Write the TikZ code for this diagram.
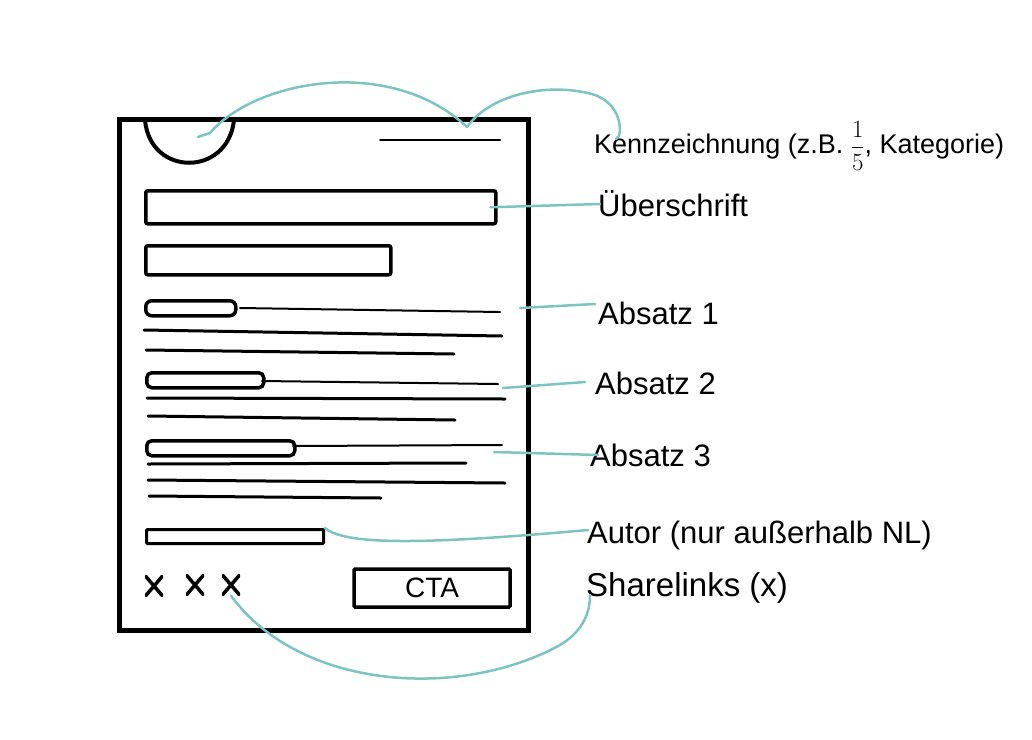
\documentclass[tikz,border=0pt]{standalone}
\usepackage{fontspec}
\setmainfont{Liberation Sans}
\definecolor{tealc}{RGB}{124,196,196}
\begin{document}
\begin{tikzpicture}[x=1pt,y=-1pt,
  frame/.style={draw=black,line width=5pt,inner sep=0pt,anchor=north west},
  box/.style={draw=black,line width=3.5pt,rounded corners=2pt,inner sep=0pt,anchor=north west},
  txtline/.style={draw=black,line width=3pt,line cap=round},
  thinline/.style={draw=black,line width=2pt,line cap=round},
  conn/.style={draw=tealc,line width=2.5pt,line cap=round,line join=round},
  lbl/.style={anchor=west,inner sep=0pt,font=\fontsize{31}{36}\selectfont},
  xmark/.style={minimum width=18pt,minimum height=21pt,inner sep=0pt,
    path picture={\draw[line width=3.5pt] (path picture bounding box.north west) -- (path picture bounding box.south east)
      (path picture bounding box.north east) -- (path picture bounding box.south west);}}
]
\useasboundingbox (0,0) rectangle (1032,739);

% page frame
\node[frame,minimum width=409pt,minimum height=511pt] (page) at (117,117) {};
% top-left half circle
\draw[line width=4pt] (145,120) .. controls (150,177) and (228,177) .. (234,120);
\coordinate (circ) at (198,137);
% top-right short line
\draw[thinline] (380,140) -- (500,140);
\coordinate (topline) at (467,127);

% headline boxes
\node[box,minimum width=350pt,minimum height=33pt] (h1) at (144,189) {};
\node[box,minimum width=245pt,minimum height=29pt] (h2) at (144,244) {};

% paragraph 1
\node[box,minimum width=90pt,minimum height=15pt,rounded corners=6pt] (p1) at (144,299) {};
\draw[thinline] (240,308) -- (500,312);
\draw[txtline] (144,330) -- (502,336);
\draw[txtline] (146,350) -- (454,354);
\coordinate (a1) at (520,308);

% paragraph 2
\node[box,minimum width=117pt,minimum height=15pt,rounded corners=5pt] (p2) at (145,371) {};
\draw[thinline] (262,381) -- (498,384);
\draw[txtline] (147,398) -- (505,399);
\draw[txtline] (148,416) -- (455,420);
\coordinate (a2) at (503,388);

% paragraph 3
\node[box,minimum width=148pt,minimum height=15pt,rounded corners=5pt] (p3) at (145,439) {};
\draw[thinline] (293,446) -- (502,445);
\draw[txtline] (148,464) -- (466,463);
\draw[txtline] (148,480) -- (505,483);
\draw[txtline] (149,496) -- (381,498);
\coordinate (a3) at (494,452);

% author box
\node[box,line width=3pt,rounded corners=1pt,minimum width=177pt,minimum height=14pt] (au) at (145,528) {};

% share x marks
\node[xmark] (x1) at (154,586) {};
\node[xmark] (x2) at (195,585) {};
\node[xmark] (x3) at (231,585) {};

% CTA button
\node[box,minimum width=156pt,minimum height=38pt,rounded corners=1pt,anchor=center,
      font=\fontsize{28}{32}\selectfont] (cta) at (432,588) {CTA};

% labels
\node[lbl,font=\fontsize{27}{32}\selectfont] (lK) at (594,146) {Kennzeichnung (z.B. $\displaystyle\frac{1}{5}$, Kategorie)};
\node[lbl] (lU) at (598,204) {Überschrift};
\node[lbl] (lA1) at (598,313) {Absatz 1};
\node[lbl] (lA2) at (595,383) {Absatz 2};
\node[lbl] (lA3) at (590,455) {Absatz 3};
\node[lbl] (lAu) at (587,535) {Autor (nur außerhalb NL)};
\node[lbl,font=\fontsize{33}{38}\selectfont] (lS) at (586,588) {Sharelinks (x)};
\coordinate (kend) at (619,136);
\coordinate (send) at (590,595);

% connectors
\draw[conn] (circ) -- (210,133) .. controls (255,80) and (390,55) .. (topline)
  .. controls (490,95) and (545,82) .. (592,94) .. controls (618,102) and (622,125) .. (kend) -- (616,139);
\draw[conn] ([xshift=-7pt]h1.east) -- ([xshift=2pt]lU.west);
\draw[conn] (a1) -- ([xshift=-3pt,yshift=9pt]lA1.west);
\draw[conn] (a2) -- ([xshift=-10pt,yshift=1pt]lA2.west);
\draw[conn] (a3) -- ([xshift=8pt]lA3.west);
\draw[conn] (au.north east) .. controls (345,545) and (420,545) .. ([xshift=1pt,yshift=5pt]lAu.west);
\draw[conn] (x3.south) .. controls (300,690) and (460,700) .. (560,645) .. controls (585,630) and (590,610) .. (send);
\end{tikzpicture}
\end{document}
